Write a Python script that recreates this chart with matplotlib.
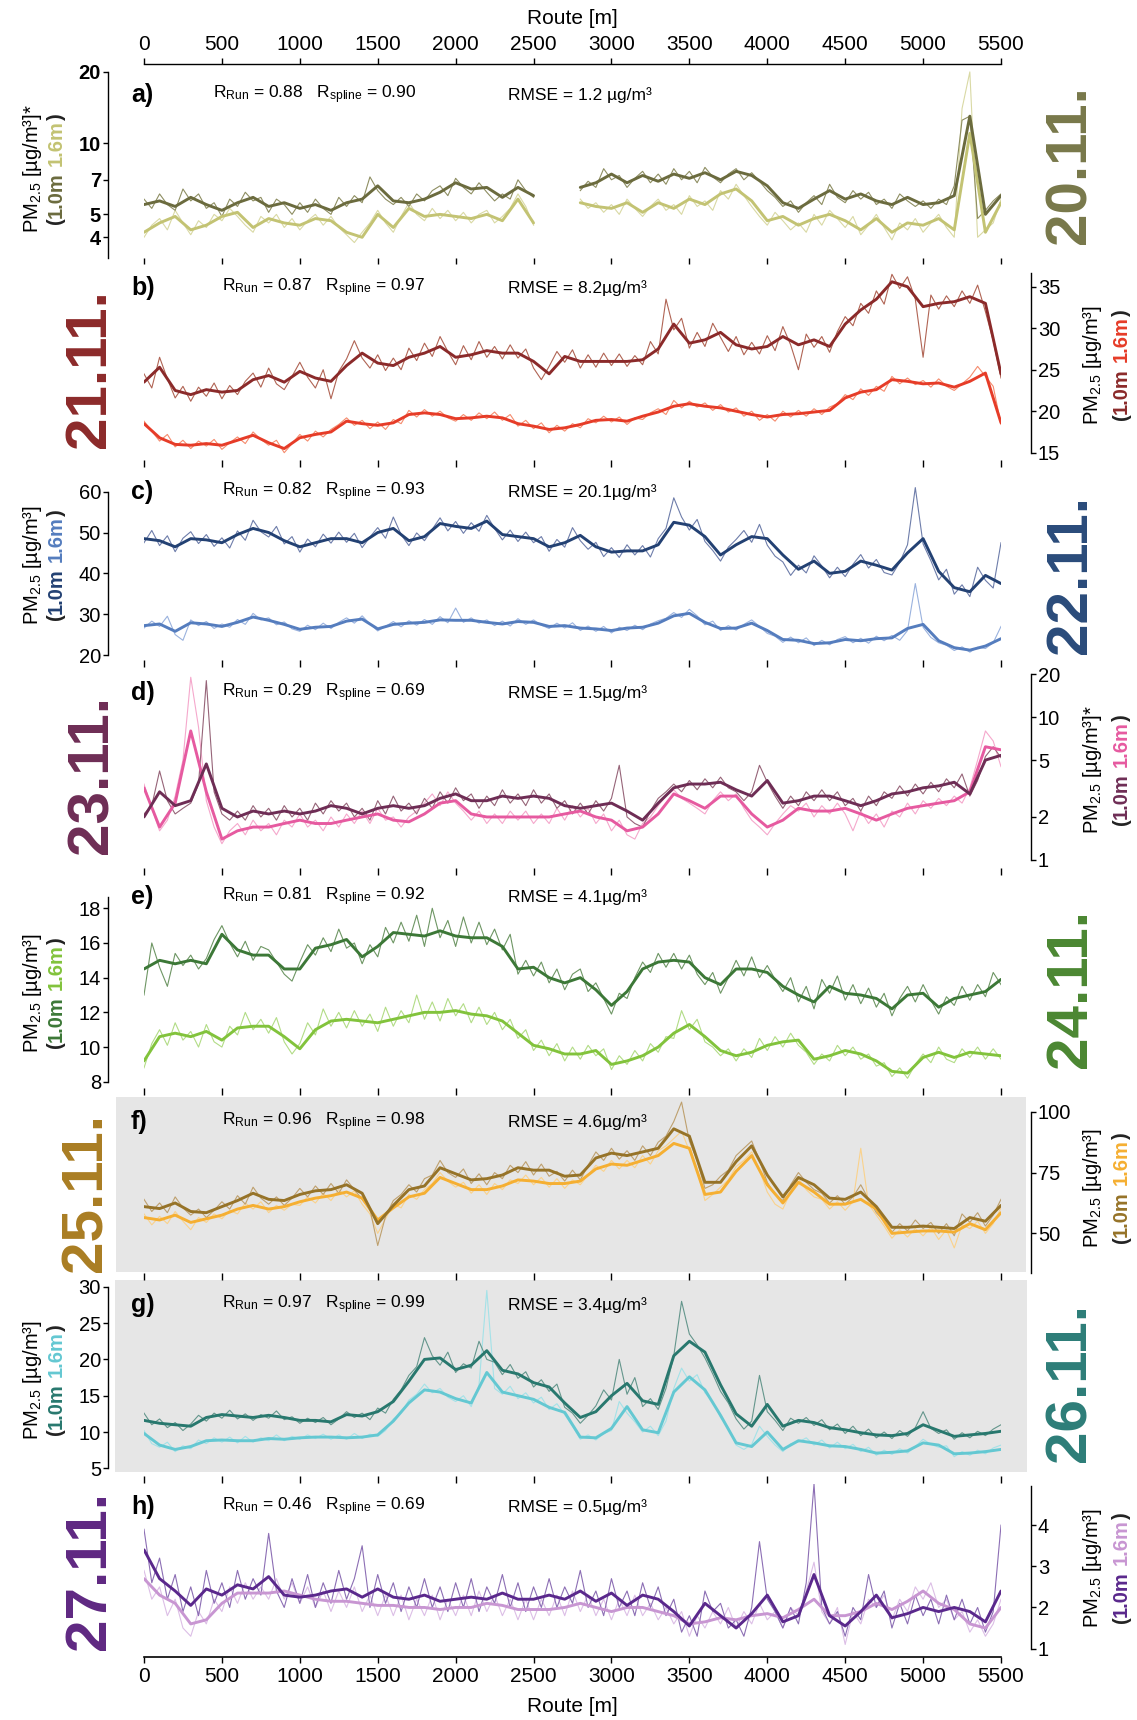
import numpy as np
import matplotlib
matplotlib.use('Agg')
import matplotlib.pyplot as plt
from matplotlib.patches import Rectangle
from matplotlib.transforms import IdentityTransform
from matplotlib.font_manager import FontProperties
from matplotlib.ticker import FixedLocator, NullLocator, FixedFormatter

nan = np.nan
FONT = ['Liberation Sans', 'DejaVu Sans']
plt.rcParams['font.family'] = FONT
plt.rcParams['mathtext.fontset'] = 'custom'
plt.rcParams['mathtext.rm'] = 'Liberation Sans'
plt.rcParams['mathtext.it'] = 'Liberation Sans:italic'
plt.rcParams['mathtext.bf'] = 'Liberation Sans:bold'

# route positions [m]
route_raw = list(range(0, 5501, 50))
route_fit = list(range(0, 5501, 100))

# ---- a) 20.11. (log scale) ----
a_10_raw = [5.8, 5.3, 6.1, 5.5, 5.2, 6.4, 5.7, 6.1, 5.3, 5.6,
            4.9, 5.8, 5.4, 6.2, 5.7, 5.9, 5.1, 5.8, 5.5, 5.0,
            5.6, 5.1, 5.8, 5.3, 5.0, 5.9, 5.4, 6.0, 5.6, 7.2,
            6.3, 5.8, 5.5, 5.9, 5.4, 6.1, 5.7, 6.3, 6.6, 6.0,
            7.1, 6.5, 6.1, 6.8, 6.2, 5.7, 6.1, 5.8, 7.0, 6.3,
            5.9, nan, nan, nan, nan, nan, 6.3, 6.9, 6.5, 7.8,
            7.0, 7.3, 6.5, 7.1, 7.6, 6.8, 7.4, 6.7, 7.8, 7.0,
            7.6, 6.8, 7.9, 7.2, 6.8, 7.4, 7.8, 7.0, 7.5, 6.9,
            6.3, 5.9, 5.4, 5.7, 5.1, 5.6, 6.0, 5.5, 6.7, 5.9,
            5.6, 6.3, 5.8, 6.2, 5.5, 5.8, 5.3, 6.1, 5.7, 5.4,
            5.7, 5.3, 5.8, 5.5, 6.6, 12.5, 13.0, 4.8, 5.2, 5.7,
            6.1]
a_16_raw = [4.0, 4.5, 4.8, 4.3, 5.2, 4.6, 4.1, 4.7, 4.4, 5.0,
            4.7, 5.3, 4.9, 4.5, 4.2, 4.9, 4.6, 5.0, 4.4, 4.8,
            4.3, 4.7, 5.0, 4.5, 4.9, 4.4, 4.1, 3.8, 4.2, 4.6,
            5.2, 4.6, 4.2, 4.9, 5.6, 5.0, 4.7, 5.3, 4.8, 5.2,
            4.7, 5.1, 4.6, 5.0, 5.2, 4.6, 4.9, 5.3, 6.1, 5.4,
            4.5, nan, nan, nan, nan, nan, 5.8, 5.3, 5.6, 5.1,
            5.5, 5.0, 5.8, 5.3, 4.9, 5.4, 5.8, 5.2, 5.5, 5.0,
            6.0, 5.4, 5.7, 5.2, 6.3, 5.8, 6.7, 6.0, 5.4, 4.9,
            4.5, 5.1, 4.7, 4.3, 4.6, 4.2, 5.0, 4.5, 5.2, 4.8,
            4.4, 4.9, 4.1, 4.5, 5.0, 4.4, 3.9, 4.6, 4.3, 4.8,
            4.2, 4.6, 5.0, 4.4, 4.0, 14.0, 20.0, 4.0, 4.3, 4.6,
            5.8]
a_10_fit = [5.5, 5.7, 5.4, 5.9, 5.5, 5.2, 5.6, 5.9, 5.4, 5.6,
            5.3, 5.5, 5.2, 5.6, 5.8, 6.6, 5.7, 5.6, 5.8, 6.2,
            6.8, 6.4, 6.5, 5.9, 6.5, 6.0, nan, nan, 6.5, 6.8,
            7.4, 6.8, 7.3, 6.9, 7.4, 7.1, 7.5, 7.0, 7.6, 7.3,
            6.6, 5.6, 5.3, 5.8, 6.3, 5.8, 6.1, 5.7, 5.5, 5.9,
            5.5, 5.6, 6.0, 13.0, 5.0, 6.0]
a_16_fit = [4.2, 4.6, 4.9, 4.3, 4.5, 4.9, 5.1, 4.4, 4.8, 4.6,
            4.5, 4.8, 4.7, 4.2, 4.0, 5.0, 4.4, 5.3, 4.9, 5.0,
            4.9, 4.8, 5.0, 4.7, 5.8, 4.6, nan, nan, 5.6, 5.4,
            5.3, 5.6, 5.1, 5.6, 5.3, 5.8, 5.5, 6.1, 6.4, 5.7,
            4.7, 4.9, 4.5, 4.8, 5.0, 4.7, 4.3, 4.8, 4.2, 4.6,
            4.5, 4.8, 4.3, 11.0, 4.2, 5.6]

# ---- b) 21.11. ----
b_10_raw = [24.5, 22.8, 26.5, 23.9, 21.6, 23.0, 21.2, 22.9, 21.8, 23.4,
            21.5, 23.1, 22.0, 23.6, 24.6, 22.9, 25.2, 23.3, 22.6, 24.2,
            25.9, 24.1, 22.8, 25.0, 21.5, 24.8, 26.3, 28.5, 26.4, 25.2,
            26.8, 24.9, 26.4, 25.0, 27.6, 26.1, 28.2, 26.6, 29.0, 27.2,
            25.6, 27.9, 26.2, 28.4, 26.5, 27.8, 26.3, 28.0, 26.4, 27.5,
            25.2, 23.8, 25.4, 27.2, 25.9, 27.4, 25.2, 26.8, 25.3, 27.0,
            25.5, 26.9, 25.4, 26.7, 25.6, 28.4, 26.9, 33.5, 29.8, 31.2,
            27.6, 29.5, 27.8, 30.6, 28.9, 27.2, 29.0, 26.8, 28.3, 26.9,
            29.1, 27.3, 30.2, 28.0, 25.0, 29.3, 27.7, 29.0, 27.1, 29.6,
            31.4, 30.3, 33.0, 31.8, 34.5, 32.9, 36.5, 34.8, 36.2, 33.5,
            26.5, 34.0, 32.3, 33.9, 32.6, 34.5, 33.0, 35.2, 32.0, 28.5,
            24.0]
b_16_raw = [18.8, 17.6, 16.4, 17.2, 15.7, 16.5, 15.5, 16.4, 15.8, 16.6,
            15.4, 16.2, 16.9, 16.1, 17.5, 16.6, 15.9, 16.5, 15.0, 16.1,
            17.2, 16.4, 17.6, 16.9, 17.8, 18.4, 19.2, 18.3, 18.9, 17.9,
            18.7, 17.8, 19.0, 18.5, 20.1, 19.3, 20.2, 19.4, 20.0, 19.2,
            18.8, 19.6, 18.9, 19.8, 19.1, 19.9, 18.9, 19.6, 18.2, 18.9,
            17.9, 18.6, 17.4, 18.3, 17.6, 18.5, 18.0, 19.1, 18.6, 19.4,
            18.7, 19.3, 18.4, 19.2, 19.0, 19.8, 20.3, 19.6, 21.3, 20.4,
            21.2, 20.5, 21.0, 20.1, 20.8, 19.9, 20.4, 19.4, 20.0, 18.9,
            19.6, 18.8, 20.0, 19.3, 20.1, 19.4, 20.3, 19.6, 20.5, 20.9,
            22.0, 21.4, 22.7, 21.9, 23.0, 22.4, 24.2, 23.3, 24.0, 23.2,
            23.7, 22.9, 23.9, 23.0, 22.5, 23.3, 24.1, 25.4, 24.2, 23.0,
            18.4]
b_10_fit = [23.5, 25.3, 22.5, 22.0, 22.6, 22.3, 22.5, 23.8, 24.3, 23.5,
            24.8, 24.0, 23.6, 25.5, 27.0, 25.8, 25.5, 26.5, 27.0, 27.8,
            26.5, 26.8, 27.3, 27.0, 27.0, 26.0, 24.5, 26.6, 26.0, 26.0,
            26.0, 26.0, 26.2, 27.5, 30.5, 28.2, 28.6, 29.5, 28.0, 27.5,
            27.8, 29.0, 28.0, 28.6, 27.8, 30.5, 32.2, 33.5, 35.6, 35.0,
            32.6, 33.0, 33.2, 33.8, 33.0, 24.5]
b_16_fit = [18.5, 16.8, 16.0, 15.9, 16.1, 15.9, 16.5, 17.1, 16.2, 15.5,
            16.8, 17.2, 17.5, 18.8, 18.5, 18.3, 18.6, 19.6, 19.8, 19.6,
            19.1, 19.2, 19.4, 19.2, 18.5, 18.2, 17.8, 18.0, 18.4, 18.9,
            19.0, 18.8, 19.4, 19.9, 20.6, 20.9, 20.6, 20.4, 20.0, 19.6,
            19.3, 19.6, 19.7, 19.9, 20.1, 21.6, 22.3, 22.6, 23.8, 23.6,
            23.3, 23.4, 22.9, 23.6, 24.6, 18.6]

# ---- c) 22.11. ----
c_10_raw = [47.5, 50.5, 46.8, 49.2, 45.3, 48.6, 50.2, 47.3, 49.5, 46.6,
            48.7, 46.2, 50.4, 48.1, 53.0, 50.2, 48.9, 51.5, 47.2, 49.0,
            45.2, 48.4, 46.5, 49.6, 47.4, 50.1, 47.6, 49.8, 46.3, 48.9,
            51.2, 48.6, 53.8, 49.5, 46.8, 49.9, 48.0, 50.8, 53.6, 50.4,
            52.7, 49.8, 52.4, 50.3, 54.2, 51.0, 48.2, 50.6, 47.8, 50.1,
            47.5, 49.0, 45.4, 48.3, 46.4, 51.2, 48.0, 45.9, 47.6, 44.1,
            46.3, 43.9, 47.0, 44.5, 46.8, 44.0, 48.5, 51.0, 58.5, 53.8,
            50.6, 53.2, 47.8, 45.6, 43.0, 46.4, 48.3, 50.5, 47.6, 52.0,
            46.9, 44.2, 42.8, 39.5, 42.0, 40.1, 44.3, 41.8, 38.9, 41.5,
            39.2, 42.2, 44.6, 41.3, 43.4, 40.2, 39.6, 42.7, 47.0, 61.0,
            47.2, 43.1, 38.4, 41.0, 34.9, 37.2, 34.3, 41.5, 38.3, 36.4,
            47.5]
c_16_raw = [26.6, 28.3, 27.0, 29.5, 25.0, 23.6, 28.6, 27.2, 28.2, 26.5,
            27.6, 26.8, 28.7, 27.5, 30.2, 28.6, 29.1, 27.4, 28.1, 26.4,
            25.8, 27.3, 26.2, 27.8, 26.5, 28.0, 29.1, 27.8, 29.6, 27.6,
            25.9, 27.0, 28.2, 26.9, 28.4, 27.3, 28.7, 27.5, 29.4, 27.9,
            31.5, 28.0, 29.1, 27.8, 28.6, 27.2, 28.3, 27.1, 28.9, 27.5,
            28.6, 27.3, 26.5, 27.8, 26.6, 27.9, 26.0, 27.1, 25.8, 27.0,
            25.4, 26.8, 26.0, 27.3, 26.2, 27.6, 28.4, 29.0, 30.4, 29.2,
            31.2, 29.6, 27.4, 28.3, 26.0, 27.2, 26.1, 27.5, 28.6, 27.0,
            25.3, 24.6, 23.1, 24.4, 23.0, 24.2, 22.3, 23.6, 22.5, 23.8,
            24.5, 23.0, 24.1, 22.9, 24.6, 23.5, 24.8, 23.6, 26.0, 37.5,
            26.8, 24.3, 23.0, 22.4, 21.1, 22.0, 20.7, 21.9, 21.6, 23.0,
            27.0]
c_10_fit = [48.5, 48.0, 46.5, 48.5, 48.2, 47.5, 49.5, 51.0, 50.0, 48.0,
            46.5, 47.5, 48.5, 48.5, 47.5, 50.0, 51.0, 48.0, 49.0, 52.2,
            51.5, 51.0, 52.8, 49.5, 49.0, 48.5, 46.5, 47.5, 49.3, 46.5,
            45.2, 45.5, 45.5, 47.0, 52.5, 51.8, 49.0, 44.5, 47.0, 49.0,
            48.5, 44.5, 41.0, 43.0, 40.0, 40.5, 43.0, 42.0, 40.8, 45.0,
            48.5, 40.5, 36.5, 35.5, 39.5, 37.5]
c_16_fit = [27.2, 27.6, 25.8, 27.9, 27.6, 27.0, 28.0, 29.3, 28.5, 27.5,
            26.3, 26.8, 27.0, 28.3, 28.8, 26.4, 27.5, 27.8, 28.0, 28.6,
            28.5, 28.5, 28.0, 27.6, 28.2, 28.0, 27.0, 27.2, 26.6, 26.4,
            26.0, 26.6, 26.8, 27.8, 29.6, 30.2, 28.0, 26.5, 26.6, 27.8,
            26.0, 23.8, 23.6, 22.8, 23.0, 23.8, 23.5, 24.0, 24.2, 26.5,
            27.5, 23.5, 21.8, 21.2, 22.2, 24.0]

# ---- d) 23.11. (log scale) ----
d_10_raw = [2.1, 2.4, 4.2, 2.6, 2.1, 2.3, 2.5, 3.4, 18.0, 3.0,
            2.1, 1.9, 2.2, 1.9, 2.4, 2.0, 2.3, 1.9, 2.4, 2.0,
            2.3, 1.9, 2.5, 2.1, 2.6, 2.2, 2.5, 2.0, 2.3, 1.9,
            2.6, 2.1, 2.8, 2.2, 2.5, 2.1, 2.7, 2.3, 3.0, 2.5,
            3.2, 2.6, 2.9, 2.3, 2.8, 2.4, 3.1, 2.5, 2.9, 2.4,
            3.1, 2.5, 2.9, 2.3, 2.6, 2.1, 2.5, 2.1, 2.6, 2.2,
            2.7, 4.6, 2.0, 1.8, 1.7, 2.2, 2.7, 3.0, 3.4, 3.0,
            3.6, 3.1, 3.7, 3.2, 3.8, 3.2, 3.0, 2.6, 3.0, 4.6,
            3.5, 2.8, 2.3, 2.8, 2.4, 3.0, 2.6, 3.1, 2.6, 3.0,
            2.4, 2.7, 2.2, 2.8, 2.4, 3.0, 2.7, 3.3, 2.8, 3.4,
            2.9, 3.5, 3.0, 3.7, 3.2, 4.0, 2.8, 3.6, 5.3, 6.2,
            5.2]
d_16_raw = [3.4, 2.3, 1.6, 1.9, 2.8, 5.0, 19.0, 8.5, 2.6, 1.7,
            1.3, 1.6, 1.8, 1.5, 1.9, 1.6, 1.8, 1.5, 1.9, 1.7,
            2.1, 1.7, 1.9, 1.6, 2.0, 1.7, 2.1, 1.8, 2.2, 1.8,
            2.3, 1.9, 2.0, 1.7, 2.0, 2.2, 2.5, 2.9, 2.4, 3.0,
            2.5, 2.2, 1.9, 2.2, 1.8, 2.1, 1.8, 2.2, 1.9, 2.2,
            1.8, 2.1, 1.8, 2.3, 1.9, 2.4, 2.0, 2.3, 1.8, 2.1,
            1.6, 1.9, 1.5, 1.4, 1.8, 2.0, 2.4, 2.8, 3.1, 2.7,
            2.5, 2.3, 2.1, 2.6, 3.0, 2.6, 2.9, 2.3, 1.9, 1.7,
            1.5, 1.8, 2.1, 2.4, 2.2, 2.5, 2.0, 2.4, 2.1, 2.5,
            2.1, 1.6, 2.2, 1.8, 2.1, 1.7, 2.2, 2.0, 2.5, 2.1,
            2.6, 2.3, 2.7, 2.4, 2.8, 2.5, 3.2, 5.0, 8.0, 6.8,
            4.5]
d_10_fit = [2.0, 3.0, 2.4, 2.6, 4.7, 2.3, 2.0, 2.2, 2.1, 2.2,
            2.1, 2.2, 2.4, 2.3, 2.1, 2.3, 2.4, 2.3, 2.4, 2.7,
            2.9, 2.6, 2.6, 2.8, 2.7, 2.8, 2.7, 2.4, 2.3, 2.4,
            2.5, 2.2, 1.9, 2.5, 3.2, 3.4, 3.4, 3.5, 3.1, 2.8,
            3.6, 2.5, 2.6, 2.8, 2.8, 2.6, 2.4, 2.6, 2.9, 3.0,
            3.2, 3.3, 3.5, 2.9, 5.0, 5.4]
d_16_fit = [3.2, 1.7, 2.5, 8.0, 3.0, 1.4, 1.6, 1.7, 1.7, 1.8,
            1.9, 1.8, 1.8, 1.9, 2.0, 2.1, 1.9, 1.85, 2.1, 2.5,
            2.6, 2.1, 2.0, 2.0, 2.0, 2.0, 2.0, 2.1, 2.2, 2.0,
            1.9, 1.6, 1.7, 2.1, 2.9, 2.6, 2.3, 2.8, 2.8, 2.1,
            1.7, 1.9, 2.3, 2.2, 2.2, 2.3, 2.1, 1.9, 2.1, 2.3,
            2.4, 2.5, 2.6, 3.0, 6.2, 5.9]

# ---- e) 24.11. ----
e_10_raw = [13.0, 16.0, 14.6, 13.5, 15.4, 14.7, 15.3, 14.5, 15.1, 16.2,
            17.0, 16.0, 15.2, 16.1, 15.0, 15.8, 15.6, 14.9, 14.2, 13.8,
            14.9, 15.9, 15.3, 16.3, 15.5, 16.8, 15.7, 16.0, 14.8, 15.9,
            15.2, 16.9, 16.0, 17.2, 16.1, 17.6, 15.8, 18.0, 16.3, 17.3,
            15.8, 17.5, 16.0, 17.2, 15.9, 16.8, 15.6, 16.5, 14.2, 15.0,
            14.1, 14.9, 13.7, 14.5, 13.3, 14.2, 14.5, 13.2, 13.7, 12.8,
            11.9, 13.1, 12.8, 14.0, 14.9, 14.3, 15.4, 14.6, 15.4, 14.5,
            15.3, 14.2, 13.6, 14.3, 13.1, 14.0, 15.0, 14.1, 15.2, 14.0,
            14.7, 13.9, 13.2, 14.0, 12.6, 13.5, 12.2, 13.9, 13.1, 14.1,
            12.7, 13.6, 12.5, 13.4, 12.3, 13.1, 11.8, 12.8, 13.5, 12.6,
            13.6, 12.7, 11.9, 12.9, 12.4, 13.5, 12.7, 13.6, 12.9, 14.3,
            13.6]
e_16_raw = [8.8, 10.2, 11.0, 10.1, 11.4, 10.4, 10.9, 10.0, 11.3, 10.3,
            10.0, 11.2, 10.7, 12.0, 11.0, 11.6, 10.8, 11.7, 10.3, 9.6,
            10.2, 11.4, 10.7, 12.2, 11.2, 12.0, 11.1, 12.1, 11.2, 11.9,
            10.9, 12.3, 11.2, 12.1, 11.4, 13.0, 11.6, 12.6, 11.5, 12.8,
            11.8, 12.5, 11.4, 12.3, 11.3, 12.0, 11.0, 11.6, 10.5, 11.0,
            9.8, 10.4, 9.5, 10.2, 9.2, 10.0, 9.3, 10.1, 9.5, 9.9,
            8.7, 9.5, 9.0, 9.8, 9.2, 10.2, 9.7, 10.6, 10.5, 12.1,
            11.0, 11.6, 10.3, 10.0, 9.5, 9.9, 9.2, 9.9, 9.4, 10.5,
            9.8, 10.6, 10.0, 10.8, 10.1, 9.7, 9.0, 9.6, 9.2, 10.1,
            9.5, 10.0, 9.3, 9.6, 8.9, 9.1, 8.3, 8.8, 8.2, 9.0,
            9.6, 9.1, 10.0, 9.3, 9.1, 9.9, 9.4, 10.0, 9.3, 9.9,
            9.3]
e_10_fit = [14.5, 15.0, 14.8, 15.0, 14.8, 16.5, 15.6, 15.3, 15.3, 14.5,
            14.5, 15.7, 15.9, 16.2, 15.2, 15.8, 16.6, 16.5, 16.4, 16.7,
            16.4, 16.3, 16.3, 15.8, 14.5, 14.6, 14.0, 13.7, 14.0, 13.3,
            12.4, 13.2, 14.5, 14.9, 15.0, 14.9, 14.0, 13.6, 14.5, 14.5,
            14.3, 13.5, 13.0, 12.6, 13.5, 13.1, 13.0, 12.8, 12.2, 13.0,
            13.1, 12.3, 12.8, 13.0, 13.2, 13.9]
e_16_fit = [9.2, 10.6, 10.8, 10.6, 10.9, 10.4, 11.1, 11.2, 11.2, 10.6,
            9.9, 11.0, 11.5, 11.6, 11.5, 11.4, 11.6, 11.8, 12.0, 12.0,
            12.1, 11.9, 11.8, 11.5, 10.8, 10.1, 9.9, 9.6, 9.6, 9.8,
            9.0, 9.2, 9.5, 10.0, 10.8, 11.3, 10.6, 9.8, 9.5, 9.7,
            10.1, 10.3, 10.4, 9.3, 9.5, 9.8, 9.6, 9.2, 8.6, 8.5,
            9.4, 9.7, 9.4, 9.7, 9.6, 9.5]

# ---- f) 25.11. ----
f_10_raw = [64.0, 59.0, 62.5, 58.5, 65.0, 60.5, 57.5, 60.0, 56.5, 59.5,
            63.0, 60.0, 65.5, 62.0, 69.0, 64.5, 62.0, 65.0, 61.5, 64.5,
            68.5, 65.0, 69.5, 66.0, 70.5, 66.5, 72.0, 68.0, 64.0, 60.0,
            45.0, 57.0, 63.5, 66.0, 70.0, 67.0, 72.5, 74.0, 80.0, 75.0,
            73.0, 76.5, 70.5, 74.5, 70.0, 75.0, 72.5, 78.0, 75.0, 79.5,
            74.0, 78.5, 73.5, 75.5, 71.5, 76.0, 72.0, 78.0, 83.5, 80.0,
            85.0, 80.5, 84.0, 80.0, 86.0, 82.0, 87.5, 90.0, 96.0, 104.0,
            88.0, 80.0, 68.5, 70.0, 73.5, 76.0, 82.0, 85.0, 88.0, 80.0,
            71.0, 66.0, 63.5, 70.0, 75.0, 71.0, 68.0, 66.5, 62.5, 65.5,
            62.0, 65.0, 70.0, 64.0, 58.5, 55.0, 50.5, 54.0, 51.0, 55.5,
            52.0, 54.5, 50.0, 54.0, 49.0, 58.0, 54.5, 58.5, 53.0, 57.5,
            64.0]
f_16_raw = [58.0, 53.5, 57.0, 54.0, 59.0, 55.0, 51.5, 56.5, 54.5, 58.0,
            56.0, 59.5, 58.0, 62.5, 60.0, 63.0, 58.5, 61.5, 59.5, 62.0,
            61.5, 65.0, 62.5, 66.5, 63.5, 68.0, 65.0, 67.5, 62.0, 58.0,
            50.0, 56.0, 62.0, 60.5, 66.0, 64.0, 68.0, 70.5, 75.0, 71.5,
            69.0, 71.0, 66.5, 70.0, 66.0, 70.5, 68.0, 72.0, 70.5, 74.0,
            70.0, 73.0, 69.0, 72.5, 68.5, 72.0, 70.0, 74.0, 78.0, 75.5,
            80.0, 76.5, 80.0, 77.0, 82.0, 78.5, 84.0, 86.0, 89.0, 92.0,
            84.0, 76.0, 63.5, 66.0, 69.0, 72.0, 77.5, 80.0, 83.5, 76.0,
            67.0, 62.0, 60.0, 67.0, 72.5, 68.0, 65.0, 64.0, 60.0, 63.0,
            59.5, 63.0, 85.0, 62.0, 57.5, 53.0, 48.0, 51.5, 48.5, 52.0,
            49.0, 52.5, 47.5, 51.5, 44.0, 53.5, 52.0, 55.0, 50.0, 54.0,
            60.5]
f_10_fit = [61.0, 60.2, 62.5, 59.0, 58.5, 61.0, 63.5, 66.5, 64.0, 63.5,
            66.0, 67.5, 68.0, 70.0, 66.5, 54.0, 61.5, 68.0, 69.5, 77.0,
            74.5, 72.0, 72.5, 74.0, 77.0, 76.0, 76.0, 73.5, 74.0, 81.0,
            83.0, 82.0, 83.5, 85.0, 93.0, 90.0, 71.0, 71.0, 79.5, 86.0,
            74.0, 65.0, 73.0, 70.0, 64.5, 64.0, 67.0, 61.0, 52.5, 52.5,
            53.0, 52.5, 52.0, 56.5, 55.0, 61.5]
f_16_fit = [56.5, 55.5, 57.5, 54.5, 56.0, 57.5, 60.0, 61.5, 60.0, 61.0,
            63.0, 64.5, 65.5, 67.0, 64.5, 55.5, 60.5, 65.0, 66.5, 73.0,
            70.5, 68.0, 68.0, 69.5, 72.0, 71.5, 70.5, 70.5, 71.5, 76.5,
            78.5, 78.0, 80.0, 82.0, 87.0, 85.0, 66.0, 67.0, 75.5, 82.0,
            70.0, 62.5, 71.0, 67.0, 62.0, 62.0, 64.0, 60.0, 50.0, 50.5,
            51.0, 51.0, 50.5, 54.0, 51.5, 58.5]

# ---- g) 26.11. ----
g_10_raw = [12.6, 11.0, 11.8, 10.6, 11.3, 10.2, 11.1, 12.3, 11.5, 12.6,
            11.9, 13.0, 11.8, 12.5, 11.6, 12.4, 11.9, 12.9, 11.7, 12.1,
            11.2, 11.9, 11.3, 12.0, 11.0, 11.8, 12.8, 12.0, 12.6, 11.7,
            13.3, 12.6, 14.5, 15.8, 17.8, 19.0, 23.0, 20.5, 19.2, 21.0,
            18.2, 19.4, 18.8, 22.5, 20.0, 19.6, 17.9, 19.3, 17.4, 18.3,
            16.2, 17.2, 15.6, 16.6, 13.4, 12.6, 11.2, 12.3, 13.6, 15.8,
            14.4, 20.0, 15.2, 17.5, 13.5, 14.6, 13.1, 16.0, 20.5, 28.0,
            23.5, 22.0, 20.2, 18.0, 15.6, 14.0, 11.8, 10.4, 11.5, 17.8,
            12.8, 11.6, 10.2, 11.9, 11.2, 12.0, 10.9, 11.7, 10.3, 11.1,
            9.8, 10.8, 9.5, 10.4, 9.2, 10.0, 9.1, 10.2, 9.4, 10.6,
            12.8, 10.5, 9.8, 10.3, 9.0, 9.9, 9.2, 10.1, 9.5, 10.4,
            11.0]
g_16_raw = [10.2, 8.4, 7.9, 8.6, 7.3, 8.1, 7.7, 8.9, 8.4, 9.2,
            8.6, 9.3, 8.5, 9.4, 8.6, 9.2, 8.8, 9.6, 8.8, 9.4,
            9.0, 9.6, 9.1, 9.7, 9.0, 9.6, 9.0, 9.8, 9.1, 9.7,
            9.4, 10.2, 11.8, 12.6, 14.4, 15.2, 16.6, 15.4, 16.0, 14.8,
            14.2, 15.0, 13.5, 16.5, 29.5, 16.0, 15.2, 16.3, 14.6, 15.4,
            14.0, 14.8, 13.1, 13.9, 12.4, 10.8, 9.0, 9.6, 8.9, 9.8,
            10.2, 14.2, 12.6, 11.4, 10.0, 10.8, 9.5, 11.5, 16.0, 18.8,
            17.0, 17.9, 15.4, 14.2, 12.0, 10.6, 8.2, 7.6, 8.3, 10.8,
            9.4, 8.2, 7.3, 8.4, 8.6, 9.2, 8.2, 8.9, 7.8, 8.6,
            7.7, 8.3, 7.3, 7.9, 6.8, 7.5, 6.9, 7.7, 7.1, 8.0,
            9.0, 8.3, 7.9, 8.1, 6.6, 7.3, 6.8, 7.5, 7.0, 7.8,
            8.2]
g_10_fit = [11.6, 11.2, 11.0, 10.8, 12.0, 12.4, 12.2, 12.0, 12.3, 12.0,
            11.6, 11.6, 11.4, 12.4, 12.2, 12.8, 14.2, 17.0, 20.0, 20.2,
            18.6, 19.2, 21.2, 18.5, 18.0, 16.8, 16.2, 14.0, 12.0, 12.8,
            15.0, 16.7, 14.3, 13.8, 20.5, 22.5, 21.0, 16.5, 12.5, 10.8,
            13.8, 10.8, 11.6, 11.3, 10.6, 10.3, 9.9, 9.6, 9.5, 9.8,
            11.0, 10.2, 9.4, 9.6, 9.8, 10.1]
g_16_fit = [9.8, 8.2, 7.6, 8.0, 8.8, 8.9, 8.8, 8.8, 9.1, 9.0,
            9.2, 9.3, 9.3, 9.2, 9.3, 9.6, 11.5, 14.0, 15.8, 15.5,
            14.6, 14.0, 18.2, 15.5, 15.0, 14.5, 13.4, 12.7, 9.3, 9.2,
            10.5, 13.5, 10.3, 9.9, 15.5, 17.6, 15.8, 12.3, 8.5, 8.0,
            10.0, 7.6, 8.8, 8.5, 8.1, 8.0, 7.6, 7.1, 7.2, 7.4,
            8.5, 8.2, 7.0, 7.1, 7.3, 7.6]

# ---- h) 27.11. ----
h_10_raw = [3.9, 2.6, 3.2, 2.2, 2.8, 1.9, 2.5, 1.8, 2.9, 2.1,
            2.6, 2.0, 2.9, 2.2, 2.7, 2.3, 3.8, 2.4, 2.0, 2.7,
            2.1, 2.8, 2.0, 2.6, 2.1, 2.9, 2.2, 2.7, 3.5, 2.0,
            2.8, 2.1, 2.6, 1.9, 2.5, 2.0, 2.7, 2.0, 2.5, 1.9,
            2.6, 2.0, 2.7, 1.9, 2.5, 2.1, 2.8, 2.0, 2.6, 1.9,
            2.5, 2.0, 2.7, 2.0, 2.5, 2.1, 2.9, 2.0, 2.4, 1.8,
            2.7, 2.0, 2.4, 1.8, 2.6, 2.0, 2.5, 1.8, 2.2, 1.4,
            1.8, 1.3, 2.4, 1.9, 2.1, 1.5, 1.7, 1.3, 2.0, 3.6,
            2.2, 1.9, 1.5, 2.0, 1.6, 2.6, 5.0, 2.0, 1.6, 1.9,
            1.3, 2.0, 1.7, 2.8, 2.0, 2.4, 1.5, 2.1, 1.6, 2.3,
            1.8, 2.2, 1.6, 2.3, 1.7, 2.2, 1.6, 2.0, 1.4, 1.9,
            4.0]
h_16_raw = [2.9, 2.2, 2.5, 1.8, 2.2, 1.5, 1.3, 1.9, 1.6, 2.2,
            1.9, 2.5, 2.1, 2.6, 2.2, 2.5, 2.2, 2.7, 2.2, 2.6,
            2.1, 2.5, 2.0, 2.4, 1.9, 2.4, 2.0, 2.5, 1.9, 2.3,
            1.8, 2.3, 1.8, 2.3, 1.7, 2.2, 1.8, 2.3, 1.7, 2.2,
            1.8, 2.3, 1.8, 2.4, 1.9, 2.3, 1.8, 2.2, 1.7, 2.2,
            1.7, 2.2, 1.8, 2.3, 1.8, 2.4, 1.9, 2.3, 1.8, 2.2,
            1.7, 2.2, 1.8, 2.3, 1.8, 2.1, 1.7, 2.0, 1.6, 1.9,
            1.3, 1.8, 1.5, 1.9, 1.6, 2.0, 1.5, 1.9, 1.6, 2.1,
            1.7, 1.9, 1.5, 2.0, 1.8, 2.4, 3.1, 1.9, 1.6, 2.0,
            1.1, 1.9, 1.6, 2.2, 2.0, 2.3, 1.7, 2.2, 1.9, 2.5,
            2.2, 2.6, 2.0, 2.2, 1.7, 1.9, 1.4, 1.7, 1.3, 1.6,
            2.2]
h_10_fit = [3.4, 2.7, 2.4, 2.05, 2.45, 2.3, 2.55, 2.45, 2.75, 2.3,
            2.25, 2.3, 2.4, 2.45, 2.25, 2.45, 2.25, 2.2, 2.3, 2.15,
            2.2, 2.25, 2.2, 2.35, 2.2, 2.2, 2.3, 2.2, 2.4, 2.15,
            2.35, 2.05, 2.3, 2.2, 1.9, 1.55, 2.1, 1.8, 1.5, 1.85,
            2.3, 1.65, 1.8, 2.8, 1.8, 1.55, 1.9, 2.3, 1.75, 1.85,
            2.0, 1.9, 2.0, 1.9, 1.65, 2.4]
h_16_fit = [2.7, 2.3, 2.1, 1.6, 1.7, 2.1, 2.35, 2.35, 2.35, 2.4,
            2.3, 2.2, 2.15, 2.15, 2.1, 2.05, 2.05, 2.0, 2.0, 1.95,
            2.0, 2.0, 2.1, 2.05, 1.95, 1.95, 1.95, 2.0, 2.1, 2.0,
            1.9, 2.0, 2.0, 1.9, 1.8, 1.6, 1.65, 1.75, 1.7, 1.8,
            1.85, 1.75, 1.95, 2.2, 1.8, 1.8, 1.9, 2.1, 1.95, 2.15,
            2.4, 2.1, 1.95, 1.6, 1.5, 2.0]

# correlation / error annotations
r_run = ['0.88', '0.87', '0.82', '0.29', '0.81', '0.96', '0.97', '0.46']
r_spline = ['0.90', '0.97', '0.93', '0.69', '0.92', '0.98', '0.99', '0.69']
rmse = ['1.2 µg/m³', '8.2µg/m³', '20.1µg/m³', '1.5µg/m³',
        '4.1µg/m³', '4.6µg/m³', '3.4µg/m³', '0.5µg/m³']
dates = ['20.11.', '21.11.', '22.11.', '23.11.', '24.11.', '25.11.', '26.11.', '27.11.']
tags = ['a)', 'b)', 'c)', 'd)', 'e)', 'f)', 'g)', 'h)']

# ---------------- layout / styles ----------------
W, H = 1137, 1720
X0, X1 = 144, 1001


def fx(px):
    return px / W


def fy(py):
    return 1 - py / H


panels = [
    dict(raw=(a_10_raw, a_16_raw), fit=(a_10_fit, a_16_fit), top=64, bot=258,
         cols=('#6b6b3e', '#c3c373'), rcols=('#8e8e62', '#d9d9a4'), date_col='#78784a',
         log=True, ylim=(3.27, 21.6), ticks=[4, 5, 7, 10, 20], bounds=(3.27, 20),
         side='left', star=True, ty=95, date_xy=(1071, 165), lab_y=169),
    dict(raw=(b_10_raw, b_16_raw), fit=(b_10_fit, b_16_fit), top=266, bot=460,
         cols=('#8b2a2a', '#e63c28'), rcols=('#b06454', '#f58c6e'), date_col='#8c2a2a',
         log=False, ylim=(14.12, 37.5), ticks=[15, 20, 25, 30, 35], bounds=(15, 36.7),
         side='right', star=False, ty=288, date_xy=(90, 369), lab_y=365),
    dict(raw=(c_10_raw, c_16_raw), fit=(c_10_fit, c_16_fit), top=468, bot=660,
         cols=('#234173', '#557dbe'), rcols=('#6e7daa', '#9ab2de'), date_col='#2a4b7a',
         log=False, ylim=(18.78, 65.8), ticks=[20, 30, 40, 50, 60], bounds=(20, 60),
         side='left', star=False, ty=492, date_xy=(1071, 575), lab_y=565),
    dict(raw=(d_10_raw, d_16_raw), fit=(d_10_fit, d_16_fit), top=669, bot=868,
         cols=('#6e2d55', '#e65aa0'), rcols=('#966478', '#f5a8cc'), date_col='#6e2d55',
         log=True, ylim=(0.879, 21.7), ticks=[1, 2, 5, 10, 20], bounds=(1, 20),
         side='right', star=True, ty=693, date_xy=(92, 775), lab_y=770),
    dict(raw=(e_10_raw, e_16_raw), fit=(e_10_fit, e_16_fit), top=876, bot=1088,
         cols=('#3c7837', '#82c33c'), rcols=('#6e9664', '#b2dc86'), date_col='#4b8732',
         log=False, ylim=(7.64, 19.86), ticks=[8, 10, 12, 14, 16, 18], bounds=(8, 18.65),
         side='left', star=False, ty=897, date_xy=(1071, 988), lab_y=993),
    dict(raw=(f_10_raw, f_16_raw), fit=(f_10_fit, f_16_fit), top=1096, bot=1273,
         cols=('#967328', '#f5af32'), rcols=('#bea06e', '#fad28c'), date_col='#aa7d23',
         log=False, ylim=(33.7, 106.5), ticks=[50, 75, 100], bounds=(33.7, 100),
         side='right', star=False, ty=1122, date_xy=(86, 1192), lab_y=1188),
    dict(raw=(g_10_raw, g_16_raw), fit=(g_10_fit, g_16_fit), top=1281, bot=1476,
         cols=('#28786e', '#64c8d2'), rcols=('#64968c', '#a4e2e8'), date_col='#2d7d78',
         log=False, ylim=(3.94, 30.8), ticks=[5, 10, 15, 20, 25, 30], bounds=(5, 30),
         side='left', star=False, ty=1305, date_xy=(1071, 1383), lab_y=1380),
    dict(raw=(h_10_raw, h_16_raw), fit=(h_10_fit, h_16_fit), top=1484, bot=1657,
         cols=('#5a288c', '#c896d2'), rcols=('#8c6eb4', '#dcbee6'), date_col='#5f2882',
         log=False, ylim=(0.796, 5.0), ticks=[1, 2, 3, 4], bounds=(1, 4.96),
         side='right', star=False, ty=1507, date_xy=(90, 1570), lab_y=1568),
]

fig = plt.figure(figsize=(W / 100, H / 100), dpi=100)
fig.patch.set_facecolor('white')

# grey backgrounds behind f) and g)
for (l, t, r, b) in [(116, 1097, 1026, 1272), (115, 1280, 1027, 1472)]:
    fig.patches.append(Rectangle((fx(l), fy(b)), fx(r) - fx(l), (b - t) / H,
                                 transform=fig.transFigure, facecolor='#e6e6e6',
                                 edgecolor='none', zorder=-1))

renderer = fig.canvas.get_renderer()


def colored_vtext(x_px, yc_px, parts, size, weight):
    # draws rotated (90 deg) text made of differently coloured parts
    prop = FontProperties(family=FONT, size=size, weight=weight)

    def width(s):
        w1 = renderer.get_text_width_height_descent(s + 'x', prop, ismath=False)[0]
        w2 = renderer.get_text_width_height_descent('x', prop, ismath=False)[0]
        return w1 - w2

    total = width(''.join(p for p, _ in parts))
    y0 = (H - yc_px) - total / 2
    prefix = ''
    for s, c in parts:
        off = width(prefix) if prefix else 0
        fig.text(x_px, y0 + off, s, color=c, fontproperties=prop, rotation=90,
                 rotation_mode='anchor', ha='left', va='center',
                 transform=IdentityTransform())
        prefix += s


for i, p in enumerate(panels):
    ax = fig.add_axes([fx(X0), fy(p['bot']), fx(X1) - fx(X0), (p['bot'] - p['top']) / H])
    ax.set_facecolor('none')
    if p['log']:
        ax.set_yscale('log')
    ax.plot(route_raw, p['raw'][1], color=p['rcols'][1], lw=0.8, zorder=2)
    ax.plot(route_raw, p['raw'][0], color=p['rcols'][0], lw=0.8, zorder=3)
    ax.plot(route_fit, p['fit'][1], color=p['cols'][1], lw=2.1, zorder=4,
            solid_joinstyle='round', solid_capstyle='round')
    ax.plot(route_fit, p['fit'][0], color=p['cols'][0], lw=2.1, zorder=5,
            solid_joinstyle='round', solid_capstyle='round')
    ax.set_xlim(0, 5500)
    ax.set_ylim(*p['ylim'])

    ax.yaxis.set_major_locator(FixedLocator(p['ticks']))
    ax.yaxis.set_minor_locator(NullLocator())
    ax.yaxis.set_major_formatter(FixedFormatter([str(t) for t in p['ticks']]))
    ax.xaxis.set_major_locator(FixedLocator(list(range(0, 5501, 500))))
    ax.xaxis.set_minor_locator(NullLocator())

    for s in ax.spines.values():
        s.set_linewidth(1.0)
        s.set_visible(False)
    side = p['side']
    sp = ax.spines[side]
    sp.set_visible(True)
    sp.set_bounds(*p['bounds'])
    if side == 'left':
        sp.set_position(('outward', 26))
        ax.yaxis.tick_left()
    else:
        sp.set_position(('outward', 21.5))
        ax.yaxis.tick_right()
    ax.tick_params(axis='y', which='major', direction='out', length=3.5, width=1.0,
                   labelsize=14.5, pad=1.5)
    if i == 0:
        for lab in ax.get_yticklabels():
            lab.set_fontweight('bold')

    if i == 0:
        ax.spines['top'].set_visible(True)
        ax.tick_params(axis='x', top=True, labeltop=True, bottom=True, labelbottom=False,
                       direction='out', length=4.5, width=1.0, labelsize=15, pad=3)
    elif i == len(panels) - 1:
        ax.spines['bottom'].set_visible(True)
        ax.spines['bottom'].set_linewidth(1.2)
        ax.tick_params(axis='x', bottom=True, labelbottom=True, direction='out',
                       length=4, width=1.0, labelsize=15, pad=3)
    else:
        ax.tick_params(axis='x', bottom=True, labelbottom=False, direction='out',
                       length=5, width=1.0)

    # panel tag and statistics
    fig.text(fx(131), fy(p['ty']), tags[i], ha='left', va='center', fontsize=18,
             fontweight='bold')
    fig.text(fx(213 if i == 0 else 222), fy(p['ty']),
             r'R$_{\mathregular{Run}}$ = ' + r_run[i] + r'   R$_{\mathregular{spline}}$ = '
             + r_spline[i], ha='left', va='center', fontsize=12.5)
    fig.text(fx(508), fy(p['ty']), 'RMSE = ' + rmse[i], ha='left', va='center',
             fontsize=12.5)

    # big date label
    dx, dy = p['date_xy']
    fig.text(fx(dx), fy(dy), dates[i], rotation=90, ha='center', va='center',
             fontsize=42, fontweight='bold', color=p['date_col'])

    # axis label (two lines)
    unit = 'PM$_{\\mathregular{2.5}}$ [µg/m³]' + ('*' if p['star'] else '')
    x1, x2 = (33, 56) if side == 'left' else (1093, 1121)
    fig.text(fx(x1), fy(p['lab_y']), unit, rotation=90, ha='center', va='center',
             fontsize=14.5)
    colored_vtext(x2, p['lab_y'], [('(', '#222222'), ('1.0m', p['cols'][0]), (' ', 'k'),
                                   ('1.6m', p['cols'][1]), (')', '#222222')], 14.5, 'bold')

fig.text(fx(572), fy(18), 'Route [m]', ha='center', va='center', fontsize=15)
fig.text(fx(572), fy(1706), 'Route [m]', ha='center', va='center', fontsize=15)

fig.savefig('out.png', dpi=100, facecolor='white')
